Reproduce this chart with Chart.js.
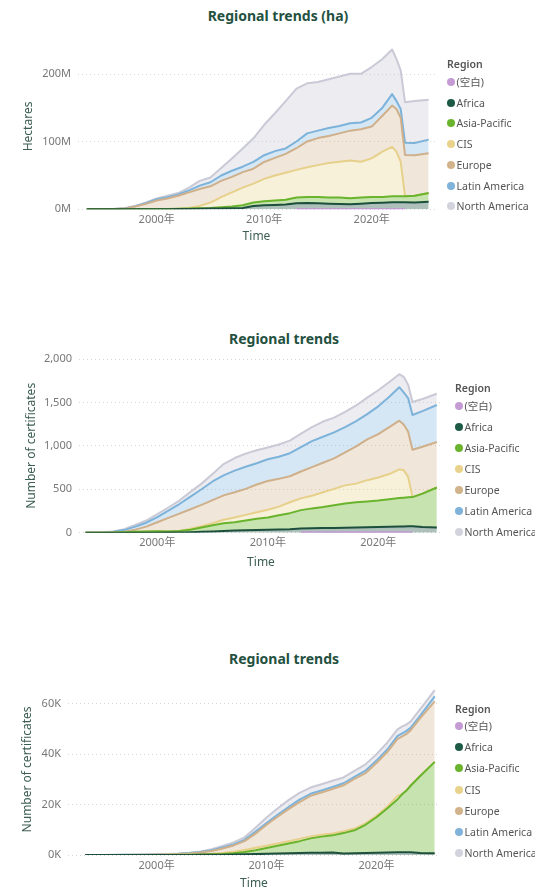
<!DOCTYPE html>
<html>
<head>
<meta charset="utf-8">
<script src="https://cdn.jsdelivr.net/npm/chart.js@4.4.1/dist/chart.umd.min.js"></script>
<style>
  html, body { margin: 0; padding: 0; background: #fff; width: 535px; height: 888px; overflow: hidden;
    font-family: "Noto Sans", "Noto Sans CJK SC", sans-serif; }
  .chart-box { position: absolute; left: 0; }
  .chart-title { position: absolute; transform: translate(-50%, -50%); white-space: nowrap;
    font-weight: 700; font-size: 14px; color: #24513f; }
  .legend-row { position: absolute; height: 14px; line-height: 14px; display: flex; align-items: center;
    font-size: 10.5px; color: #555; white-space: nowrap; }
  .legend-head { font-weight: 600; color: #555; }
  .legend-dot { display: inline-block; width: 8px; height: 8px; border-radius: 50%; margin-right: 1.5px; }
</style>
</head>
<body>
<div class="chart-title" style="left:278px; top:15px;">Regional trends (ha)</div>
<div class="chart-title" style="left:284px; top:338px;">Regional trends</div>
<div class="chart-title" style="left:284px; top:658px;">Regional trends</div>

<div class="chart-box" style="top:30px;"><canvas id="haChart" width="535" height="225"></canvas></div>
<div class="chart-box" style="top:330px;"><canvas id="certChart" width="535" height="250"></canvas></div>
<div class="chart-box" style="top:660px;"><canvas id="cocChart" width="535" height="240"></canvas></div>

<div id="legends"></div>

<script>
// time axis (decimal years) shared by all three charts
const times = [1993.5, 1995, 1996, 1997, 1998, 1999, 2000, 2001, 2002, 2003, 2004, 2005, 2006, 2007, 2008,
  2009, 2010, 2011, 2012, 2013, 2014, 2015, 2016, 2017, 2018, 2019, 2020, 2021, 2021.9, 2022.3, 2022.7,
  2023.1, 2024, 2025.3];
const yearTicks = [2000, 2010, 2020];
const regions = ['(空白)', 'Africa', 'Asia-Pacific', 'CIS', 'Europe', 'Latin America', 'North America'];

// chart 1 - hectares, in millions
const haBlank = [null, null, null, null, null, null, null, null, null, null, null, null, null, null, null, null, null, null, null,
  0.3, 0.3, 0.3, 0.3, 0.3, 0.3, 0.3, 0.3, 0.3, 0.3, 0.3, 0.3, 0.3, null, null];
const haAfrica = [0, 0, 0, 0, 0, 0, 0.1, 0.2, 0.3, 0.5, 0.7, 1, 1.3, 1.6, 2, 5, 6, 6.5, 7, 8.5, 9, 8.5, 8, 7.5, 7, 8, 9, 9.5,
  10, 10, 10, 10, 10, 11];
const haAsiaPacific = [0, 0, 0, 0.2, 0.5, 0.6, 0.5, 0.4, 0.5, 0.5, 0.8, 1, 1.7, 2.4, 4, 5, 6, 6.5, 7, 8.5, 9, 9.5, 9, 9.5, 9, 9,
  9, 8.5, 9, 9, 9, 9, 10, 13];
const haCIS = [0, 0, 0, 0, 0, 0, 0, 0, 0, 1, 3.5, 8, 15, 21, 26, 28, 33, 37, 40, 41, 44, 47, 51, 53, 56, 53, 57, 67, 73, 66, 51,
  0, 0, 0];
const haEurope = [0, 0.1, 0.3, 0.8, 3.5, 7.4, 12.4, 15.4, 19.2, 23, 25, 24, 24, 23, 23, 22, 25, 26, 28, 32, 38, 40, 40, 42, 44,
  48, 47, 53, 61, 63, 65, 61, 60, 59];
const haLatinAmerica = [0, 0.05, 0.1, 0.2, 0.5, 1, 2, 2, 2, 3, 5, 6, 8, 9, 8, 10, 10, 10, 8, 10, 12, 11, 12, 11, 11, 10, 13, 12,
  17, 12, 13, 18, 18, 20];
const haNorthAmerica = [0, 0.05, 0.1, 0.3, 0.5, 1, 1, 2, 2, 4, 7, 7, 11, 18, 27, 35, 45, 56, 70, 78, 74, 72, 72, 73, 73, 72, 75,
  72, 66, 62, 57, 60, 62, 59];

// chart 2 - number of certificates
const certBlank = [null, null, null, null, null, null, null, null, null, null, null, null, null, null, null, null, null, null, null,
  5, 5, 5, 5, 5, 5, 5, 5, 5, 5, 5, 5, 5, null, null];
const certAfrica = [0, 0, 0, 0, 0, 0, 0, 1, 3, 6, 10, 15, 20, 24, 28, 32, 35, 38, 40, 43, 45, 48, 50, 52, 55, 58, 60, 63, 65, 66,
  68, 70, 65, 60];
const certAsiaPacific = [0, 0, 1, 5, 10, 15, 18, 14, 17, 29, 50, 70, 90, 96, 112, 128, 140, 162, 185, 212, 230, 242, 260, 278,
  290, 297, 305, 317, 330, 332, 334, 335, 385, 460];
const certCIS = [0, 0, 0, 0, 0, 0, 0, 0, 0, 10, 15, 25, 40, 55, 65, 75, 90, 100, 125, 135, 145, 170, 190, 210, 215, 245, 265,
  290, 330, 317, 238, 0, 0, 0];
const certEurope = [0, 1, 3, 5, 25, 55, 102, 155, 200, 225, 245, 265, 280, 290, 300, 320, 330, 320, 300, 310, 330, 340, 350, 380,
  430, 470, 500, 540, 560, 525, 520, 545, 540, 525];
const certLatinAmerica = [0, 2, 6, 20, 35, 45, 60, 85, 110, 145, 180, 215, 230, 250, 255, 245, 250, 255, 265, 280, 300, 300, 300,
  290, 290, 290, 320, 350, 385, 370, 385, 400, 410, 425];
const certNorthAmerica = [0, 2, 5, 10, 20, 25, 35, 35, 40, 55, 65, 85, 130, 145, 150, 150, 135, 140, 145, 155, 160, 175, 170, 175,
  180, 190, 185, 170, 150, 180, 155, 150, 140, 130];

// chart 3 - number of certificates, in thousands
const cocBlank = [null, null, null, null, null, null, null, null, null, null, null, null, null, null, null, null, null, null, null,
  null, null, null, null, null, null, null, null, null, null, null, null, null, null, null];
const cocAfrica = [0, 0, 0, 0, 0, 0, 0, 0, 0.01, 0.02, 0.05, 0.08, 0.12, 0.18, 0.25, 0.35, 0.45, 0.55, 0.65, 0.75, 0.85, 0.9, 0.95,
  0.6, 0.7, 0.8, 0.9, 1.0, 1.1, 1.1, 1.1, 1.1, 0.8, 0.7];
const cocAsiaPacific = [0, 0, 0, 0, 0, 0.01, 0.02, 0.03, 0.04, 0.08, 0.1, 0.17, 0.28, 0.52, 0.95, 1.55, 2.35, 3.15, 3.95, 4.75,
  5.75, 6.4, 6.85, 8.1, 9.1, 11.2, 14.1, 17.6, 20.9, 22.9, 24.4, 26.4, 30.7, 36.3];
const cocCIS = [0, 0, 0, 0, 0.01, 0.01, 0.01, 0.02, 0.05, 0.1, 0.15, 0.25, 0.4, 0.6, 0.8, 1.0, 0.9, 0.9, 0.9, 0.9, 0.8, 0.7, 0.7,
  0.7, 0.7, 0.6, 0.6, 0.7, 1.5, 0, 0, 0, 0, 0];
const cocEurope = [0, 0, 0.02, 0.04, 0.06, 0.08, 0.12, 0.2, 0.25, 0.4, 0.7, 1.1, 1.8, 2.5, 3.5, 5.6, 8.3, 10.6, 12.7, 14.6, 16.1,
  16.8, 17.7, 18.3, 19.7, 19.9, 20.9, 21.7, 22.5, 23, 22.5, 22, 23, 24];
const cocLatinAmerica = [0, 0.02, 0.02, 0.03, 0.03, 0.04, 0.05, 0.05, 0.1, 0.15, 0.2, 0.3, 0.4, 0.4, 0.5, 0.8, 0.7, 0.8, 0.8, 1.0,
  0.8, 0.8, 0.8, 0.8, 0.8, 1.0, 1.0, 1.0, 1.2, 1.2, 1.2, 1.0, 1.0, 2.0];
const cocNorthAmerica = [0, 0.01, 0.01, 0.01, 0.02, 0.02, 0.05, 0.08, 0.1, 0.15, 0.2, 0.4, 0.6, 0.8, 1.0, 1.5, 2.2, 2.5, 2.8, 2.7,
  2.5, 2.5, 2.5, 2.3, 2.4, 2.5, 2.5, 2.7, 2.6, 2.8, 2.6, 2.5, 2.5, 2.5];

// colours per region
const lineColors = ['#c39bd3', '#1d4f3e', '#6ab42d', '#e6d08a', '#cfb08a', '#7db3da', '#c9cad6'];
const fillColors = ['rgba(0,0,0,0)', 'rgba(40,90,72,0.38)', 'rgba(108,181,45,0.38)', 'rgba(232,211,142,0.33)',
  'rgba(207,177,140,0.32)', 'rgba(125,180,220,0.32)', 'rgba(205,205,217,0.38)'];
const dotColors = ['#c49bd4', '#1d5a45', '#6ab42d', '#e9d38c', '#d1b48c', '#7fb3d9', '#d3d3de'];

Chart.defaults.font.family = '"Noto Sans", "Noto Sans CJK SC", sans-serif';

function buildDatasets(series) {
    return series.map((values, i) => ({
        label: regions[i],
        data: values.map((v, j) => ({ x: times[j], y: v })),
        borderColor: lineColors[i],
        backgroundColor: fillColors[i],
        borderWidth: 2,
        borderJoinStyle: 'round',
        pointRadius: 0,
        tension: 0,
        fill: i === 0 ? false : (i === 1 ? 'origin' : '-1')
    }));
}

function createTrendChart(canvasId, series, cfg) {
    const ctx = document.getElementById(canvasId).getContext('2d');
    return new Chart(ctx, {
        type: 'line',
        data: { datasets: buildDatasets(series) },
        options: {
            responsive: false,
            animation: false,
            layout: { padding: cfg.padding },
            plugins: { legend: { display: false }, tooltip: { enabled: false } },
            scales: {
                x: {
                    type: 'linear',
                    min: cfg.xMin,
                    max: cfg.xMax,
                    afterBuildTicks: axis => { axis.ticks = yearTicks.map(v => ({ value: v })); },
                    afterFit: axis => { axis.height = cfg.xHeight; },
                    grid: { display: false, drawTicks: false },
                    border: { display: false },
                    ticks: { color: '#777', font: { size: 11 }, padding: 4, maxRotation: 0, callback: v => v + '年' },
                    title: { display: true, text: 'Time', color: '#3d5e54', font: { size: 12 } }
                },
                y: {
                    stacked: true,
                    min: 0,
                    max: cfg.yMax,
                    afterBuildTicks: axis => { axis.ticks = cfg.yTicks.map(v => ({ value: v })); },
                    afterFit: axis => { axis.width = cfg.yWidth; },
                    grid: { color: '#d6d6d6', drawTicks: false },
                    border: { display: false, dash: [1, 3] },
                    ticks: { color: '#777', font: { size: 11 }, padding: 7, callback: cfg.yFormat },
                    title: { display: true, text: cfg.yTitle, color: '#3d5e54', font: { size: 12 } }
                }
            }
        }
    });
}

function buildLegend(x, headY, firstY, step) {
    const holder = document.getElementById('legends');
    const head = document.createElement('div');
    head.className = 'legend-row legend-head';
    head.style.left = x + 'px';
    head.style.top = (headY - 7) + 'px';
    head.textContent = 'Region';
    holder.appendChild(head);
    regions.forEach((name, i) => {
        const row = document.createElement('div');
        row.className = 'legend-row';
        row.style.left = x + 'px';
        row.style.top = (firstY + i * step - 7) + 'px';
        const dot = document.createElement('span');
        dot.className = 'legend-dot';
        dot.style.background = dotColors[i];
        row.appendChild(dot);
        row.appendChild(document.createTextNode(name));
        holder.appendChild(row);
    });
}

window.onload = function() {
    createTrendChart('haChart',
        [haBlank, haAfrica, haAsiaPacific, haCIS, haEurope, haLatinAmerica, haNorthAmerica], {
        padding: { top: 8.8, bottom: 7.1, left: 17.8, right: 100 },
        xMin: 1992.68, xMax: 2025.89, xHeight: 38.6, yWidth: 60.2,
        yMax: 245, yTicks: [0, 100, 200], yFormat: v => v + 'M', yTitle: 'Hectares'
    });
    createTrendChart('certChart',
        [certBlank, certAfrica, certAsiaPacific, certCIS, certEurope, certLatinAmerica, certNorthAmerica], {
        padding: { top: 29, bottom: 6.5, left: 20.8, right: 92 },
        xMin: 1992.91, xMax: 2025.86, xHeight: 40.8, yWidth: 58.2,
        yMax: 2000, yTicks: [0, 500, 1000, 1500, 2000], yFormat: v => v.toLocaleString('en-US'),
        yTitle: 'Number of certificates'
    });
    createTrendChart('cocChart',
        [cocBlank, cocAfrica, cocAsiaPacific, cocCIS, cocEurope, cocLatinAmerica, cocNorthAmerica], {
        padding: { top: 23.8, bottom: 5.5, left: 16.8, right: 95 },
        xMin: 1991.94, xMax: 2025.78, xHeight: 39.5, yWidth: 51.2,
        yMax: 68, yTicks: [0, 20, 40, 60], yFormat: v => v + 'K', yTitle: 'Number of certificates'
    });
    buildLegend(447, 64, 82, 20.7);
    buildLegend(455, 388, 405.5, 21.1);
    buildLegend(455, 708.5, 726, 21.2);
};
</script>
</body>
</html>
